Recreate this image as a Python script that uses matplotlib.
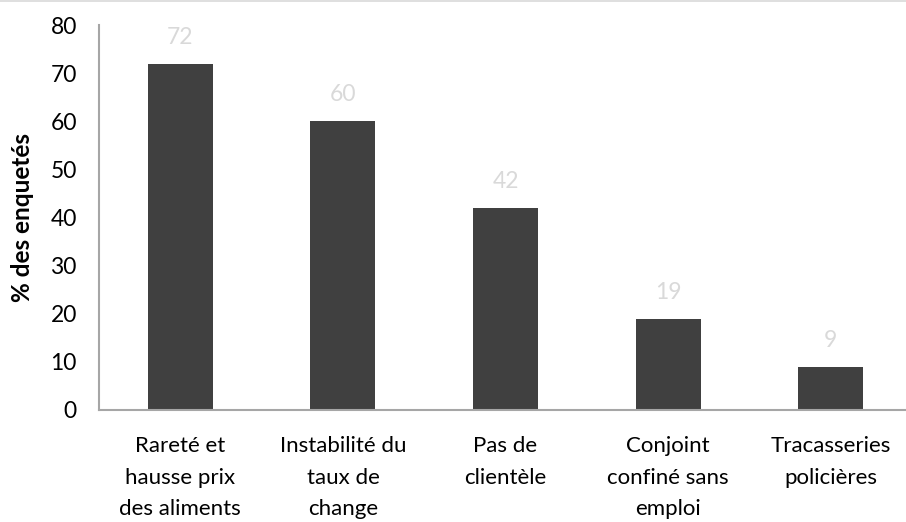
import matplotlib.pyplot as plt
from matplotlib.lines import Line2D

categories = [
    "Rareté et\nhausse prix\ndes aliments",
    "Instabilité du\ntaux de\nchange",
    "Pas de\nclientèle",
    "Conjoint\nconfiné sans\nemploi",
    "Tracasseries\npolicières",
]
values = [72, 60, 42, 19, 9]
y_ticks = [0, 10, 20, 30, 40, 50, 60, 70, 80]

plt.rcParams['font.family'] = ['Lato', 'DejaVu Sans']

fig = plt.figure(figsize=(9.06, 5.22), dpi=100)
# l'axe déborde légèrement à droite, comme dans le graphique d'origine
ax = fig.add_axes([0.1093, 0.2146, 0.8974, 0.7375])

x = range(len(categories))
ax.bar(x, values, width=0.40, color='#404040', zorder=2)

# valeurs au-dessus des barres
for xi, v in zip(x, values):
    ax.text(xi, v + 3.3, f"{v}", ha='center', va='bottom', fontsize=16.5, color='#D9D9D9')

ax.set_xlim(-0.5, len(categories) - 0.5)
ax.set_ylim(0, 80)
ax.set_yticks(y_ticks)
ax.set_yticklabels([str(t) for t in y_ticks], fontsize=16.5)
ax.set_xticks(list(x))
ax.set_xticklabels(categories, fontsize=16, linespacing=1.7)
ax.tick_params(axis='y', length=0, pad=16)
ax.tick_params(axis='x', length=0, pad=19)
ax.set_ylabel("% des enquetés", fontsize=17.5, fontweight='bold')
ax.yaxis.set_label_coords(-0.080, 0.499)

for side in ['top', 'right']:
    ax.spines[side].set_visible(False)
for side in ['left', 'bottom']:
    ax.spines[side].set_color('#A6A6A6')
    ax.spines[side].set_linewidth(1.5)

# fine bordure en haut du graphique
fig.add_artist(Line2D([0, 1], [0.998, 0.998], color='#D9D9D9', linewidth=1.2))

fig.savefig("out.png", dpi=100)
